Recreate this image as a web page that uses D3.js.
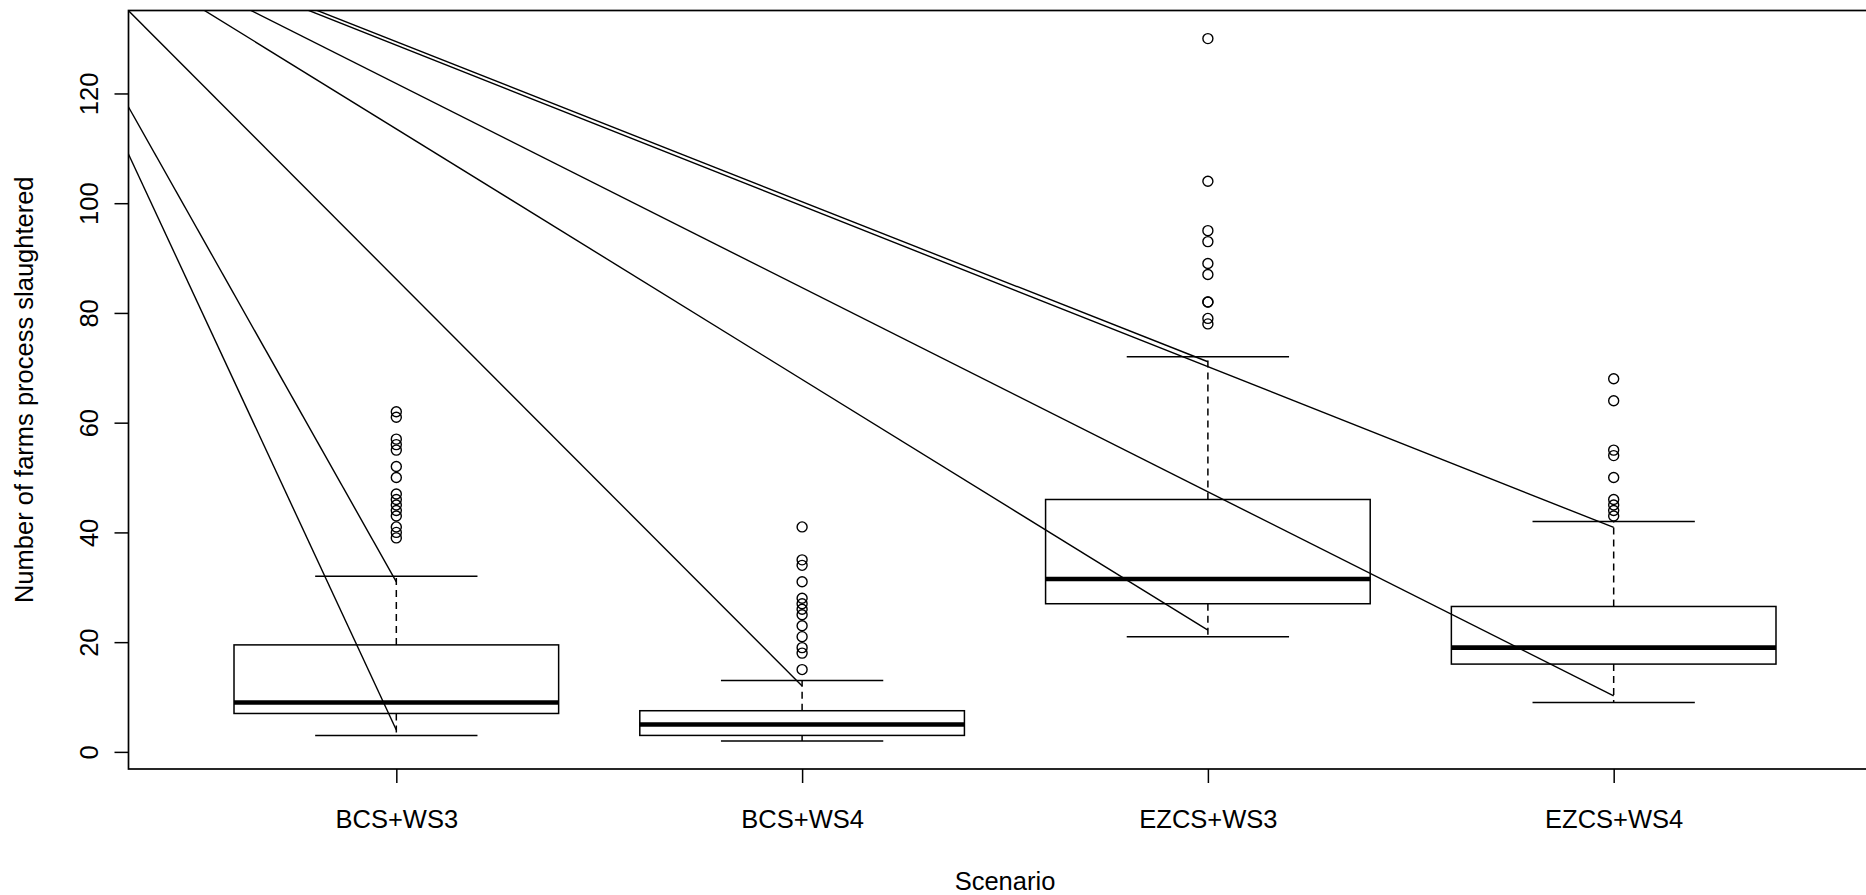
<!DOCTYPE html>
<html>
<head>
<meta charset="utf-8">
<script src="https://cdn.jsdelivr.net/npm/d3@7"></script>
<style>
  body { margin:0; background:#fff; }
  svg { display:block; font-family:"Liberation Sans", Arial, sans-serif; }
  .label { font-size:25.5px; fill:#000; }
</style>
</head>
<body>
<svg id="chart" width="1866" height="895"></svg>
<script>
// scenarios along the x axis
const scenarios = ["BCS+WS3", "BCS+WS4", "EZCS+WS3", "EZCS+WS4"]
// box statistics per scenario
const whiskerLow  = [3, 2, 21, 9]
const quartile1   = [7, 3, 27, 16]
const medians     = [9, 5, 31.5, 19]
const quartile3   = [19.5, 7.5, 46, 26.5]
const whiskerHigh = [32, 13, 72, 42]
// outliers per scenario
const outliers = [
    [39, 40, 41, 43, 44, 45, 46, 47, 50, 52, 55, 56, 57, 61, 62],
    [15, 18, 19, 21, 23, 25, 26, 27, 28, 31, 34, 35, 41],
    [78, 79, 82, 82, 87, 89, 93, 95, 104, 130],
    [43, 44, 45, 46, 50, 54, 55, 64, 68]
]
// straight lines running in from the upper left (they start at x = 0)
const lineStartY      = [163.0, 162.1, 160.3, 159.2, 159.0, 158.6, 158.1]
const lineEndScenario = [1, 1, 2, 3, 4, 3, 4]
const lineEndY        = [4, 31, 12, 22.2, 10.2, 71.1, 40.9]
// tick labels
const yTicks = [0, 20, 40, 60, 80, 100, 120]

const boxplot = (ax, xLabel, yLabel) =>
{
    const left = 128.5, right = 1881.5, top = 10.5, bottom = 769
    const lw = 1.5

    // R style ranges: categories 0.5..4.5 and data range, both padded by 4%
    const xDom = [0.5, scenarios.length + 0.5]
    const xPad = (xDom[1] - xDom[0]) * 0.04
    const x = d3.scaleLinear().domain([xDom[0] - xPad, xDom[1] + xPad]).range([left, right])

    const yMin = d3.min(whiskerLow), yMax = d3.max(outliers.flat())
    const yPad = (yMax - yMin) * 0.04
    const y = d3.scaleLinear().domain([yMin - yPad, yMax + yPad]).range([bottom, top])

    const svg = d3.select(`#${ax}`)

    svg.append("defs").append("clipPath").attr("id", "plotclip")
        .append("rect")
        .attr("x", left).attr("y", top)
        .attr("width", right - left).attr("height", bottom - top)

    const stats = scenarios.map((s, i) => ({
        i: i + 1, lo: whiskerLow[i], q1: quartile1[i], med: medians[i],
        q3: quartile3[i], hi: whiskerHigh[i], out: outliers[i]
    }))

    const boxes = svg.selectAll(".box")
        .data(stats)
        .join("g")
        .attr("class", "box")
        .attr("fill", "none")
        .attr("stroke", "#000")

    // dashed whiskers
    boxes.append("line")
        .attr("x1", d => x(d.i)).attr("x2", d => x(d.i))
        .attr("y1", d => y(d.q3)).attr("y2", d => y(d.hi))
        .attr("stroke-width", lw).attr("stroke-dasharray", "7,5")
    boxes.append("line")
        .attr("x1", d => x(d.i)).attr("x2", d => x(d.i))
        .attr("y1", d => y(d.q1)).attr("y2", d => y(d.lo))
        .attr("stroke-width", lw).attr("stroke-dasharray", "7,5")
    // staples
    boxes.selectAll(".staple")
        .data(d => [[d.i, d.lo], [d.i, d.hi]])
        .join("line")
        .attr("class", "staple")
        .attr("x1", d => x(d[0] - 0.2)).attr("x2", d => x(d[0] + 0.2))
        .attr("y1", d => y(d[1])).attr("y2", d => y(d[1]))
        .attr("stroke-width", lw)
    // box
    boxes.append("rect")
        .attr("x", d => x(d.i - 0.4))
        .attr("width", d => x(d.i + 0.4) - x(d.i - 0.4))
        .attr("y", d => y(d.q3))
        .attr("height", d => y(d.q1) - y(d.q3))
        .attr("fill", "#fff")
        .attr("stroke-width", lw)
    // median
    boxes.append("line")
        .attr("x1", d => x(d.i - 0.4)).attr("x2", d => x(d.i + 0.4))
        .attr("y1", d => y(d.med)).attr("y2", d => y(d.med))
        .attr("stroke-width", 4.6)
    // outliers
    boxes.selectAll("circle")
        .data(d => d.out.map(v => [d.i, v]))
        .join("circle")
        .attr("cx", d => x(d[0]))
        .attr("cy", d => y(d[1]))
        .attr("r", 5)
        .attr("stroke-width", 1.4)

    // the straight lines, clipped to the plot region
    svg.append("g")
        .attr("clip-path", "url(#plotclip)")
        .selectAll("line")
        .data(lineStartY.map((s, i) => ({s, c: lineEndScenario[i], e: lineEndY[i]})))
        .join("line")
        .attr("x1", x(0)).attr("y1", d => y(d.s))
        .attr("x2", d => x(d.c)).attr("y2", d => y(d.e))
        .attr("stroke", "#000")
        .attr("stroke-width", 1.4)

    // frame
    svg.append("rect")
        .attr("x", left).attr("y", top)
        .attr("width", right - left).attr("height", bottom - top)
        .attr("fill", "none").attr("stroke", "#000").attr("stroke-width", 1.7)

    // axes
    const yAxis = svg.append("g")
        .attr("transform", `translate(${left},0)`)
        .call(d3.axisLeft(y).tickValues(yTicks).tickSize(14).tickSizeOuter(0))
    yAxis.select(".domain").remove()
    yAxis.selectAll("line").attr("stroke-width", lw)
    yAxis.selectAll("text")
        .attr("class", "label")
        .attr("x", 0).attr("y", -31).attr("dy", 0)
        .attr("text-anchor", "middle")
        .attr("transform", "rotate(-90)")

    const xAxis = svg.append("g")
        .attr("transform", `translate(0,${bottom})`)
        .call(d3.axisBottom(x).tickValues(scenarios.map((s, i) => i + 1))
            .tickFormat(i => scenarios[i - 1]).tickSize(14).tickSizeOuter(0))
    xAxis.select(".domain").remove()
    xAxis.selectAll("line").attr("stroke-width", lw)
    xAxis.selectAll("text")
        .attr("class", "label")
        .attr("y", 59).attr("dy", 0)

    xAxis.attr("font-size", null).attr("font-family", null)
    yAxis.attr("font-size", null).attr("font-family", null)

    // axis titles
    svg.append("text")
        .attr("class", "label")
        .attr("x", (left + right) / 2).attr("y", 890)
        .attr("text-anchor", "middle")
        .text(xLabel)

    svg.append("g")
        .attr("transform", `translate(33,${(top + bottom) / 2}) rotate(-90)`)
        .append("text")
        .attr("class", "label")
        .attr("text-anchor", "middle")
        .text(yLabel)
}

boxplot("chart", "Scenario", "Number of farms process slaughtered")
</script>
</body>
</html>
